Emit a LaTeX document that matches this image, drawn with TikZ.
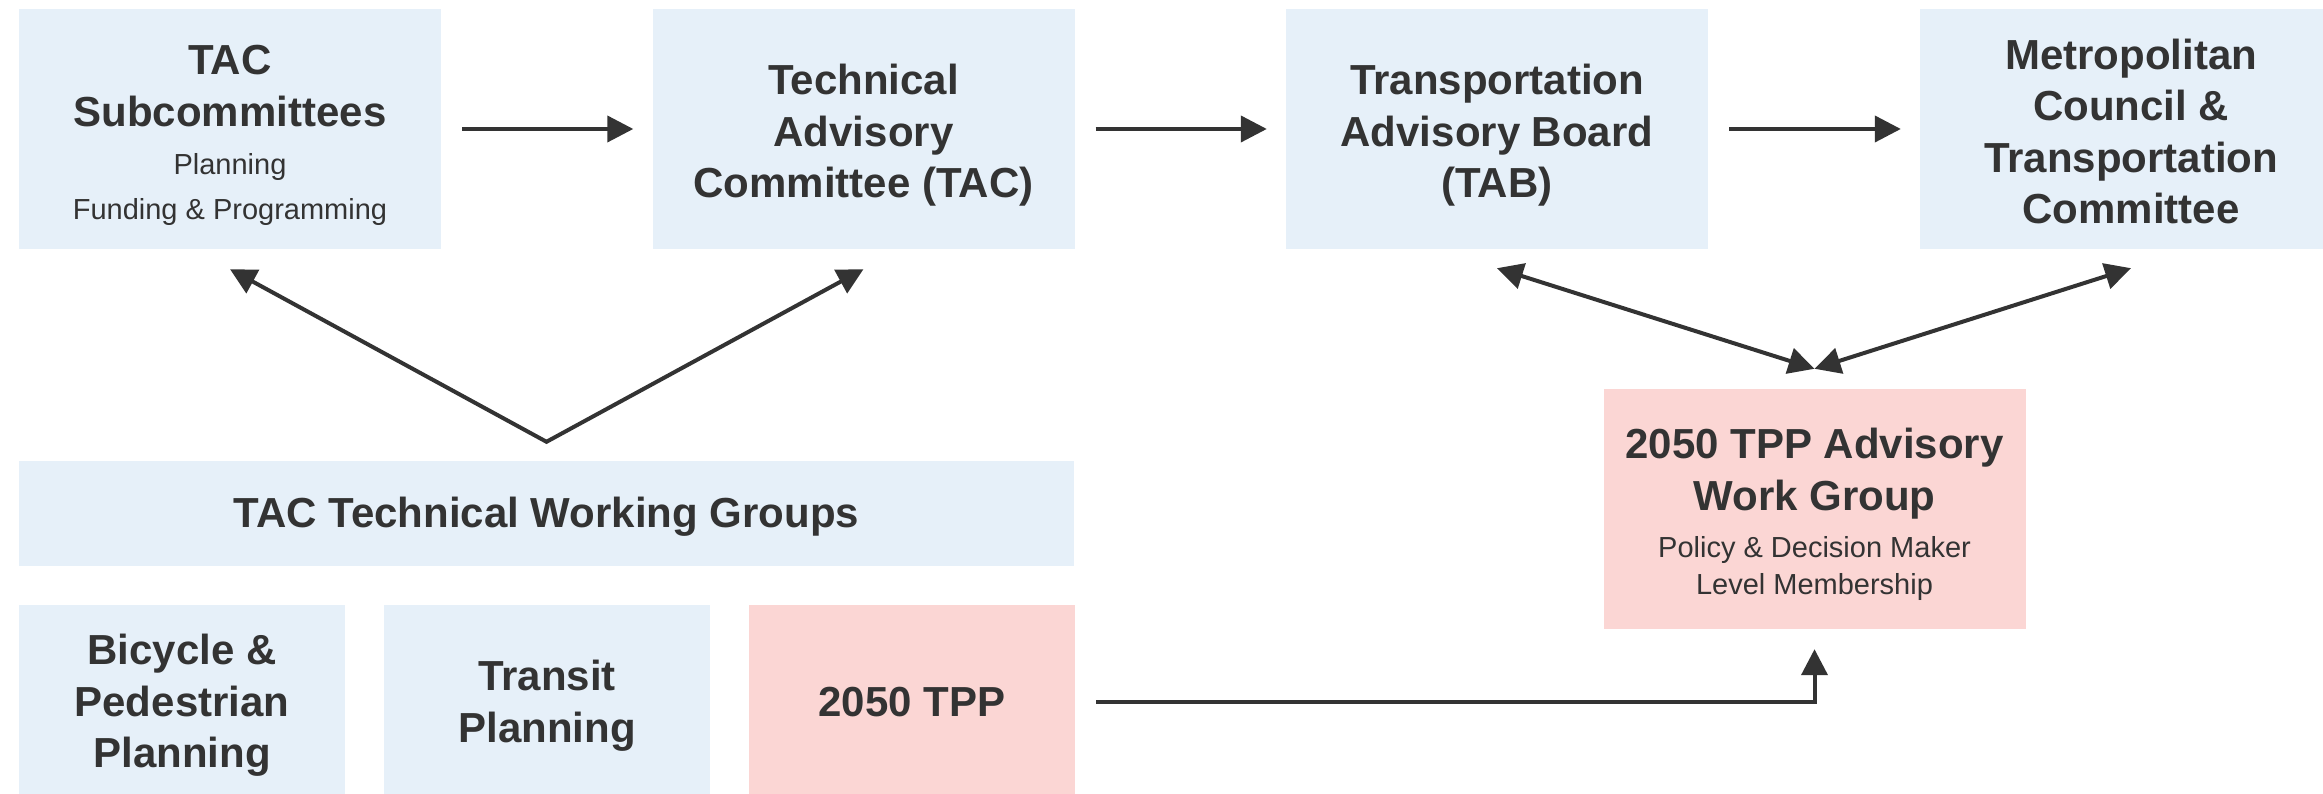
\documentclass[tikz,border=0pt]{standalone}
\usepackage{fontspec}
\setmainfont{Liberation Sans}
\usetikzlibrary{calc}
\usetikzlibrary{arrows.meta}

\definecolor{paleblue}{RGB}{230,240,249}
\definecolor{palepink}{RGB}{251,214,212}
\definecolor{ink}{RGB}{51,51,51}
\newcommand{\detailfont}{\mdseries\fontsize{29}{36.5}\selectfont}
\newcommand{\headroom}[1]{\rule{0pt}{#1}}
\newcommand{\footroom}{\rule[-9pt]{0pt}{9pt}}

\begin{document}
\begin{tikzpicture}[x=1pt, y=1pt,
  unitbox/.style={fill=paleblue, text=ink, inner sep=0pt, align=flush center, font=\bfseries\fontsize{42}{51.5}\selectfont},
  boardbox/.style={unitbox, minimum width=422pt, minimum height=240pt, text width=410pt},
  memberbox/.style={unitbox, minimum width=326pt, minimum height=194pt, text width=316pt},
  flow/.style={draw=ink, line width=4pt, ->, >={Triangle[length=26pt,width=26pt]}}]
\useasboundingbox (0,0) rectangle (2323,794);

\node[boardbox] (sub) at (230,665) {\headroom{45.5pt}TAC\\Subcommittees\\[-3pt]{\detailfont Planning}\\[-6.5pt]{\detailfont Funding \& Programming\footroom}};
\node[boardbox] (tac) at (863.5,665) {\headroom{44pt}Technical\\Advisory\\Committee (TAC)\footroom};
\node[boardbox] (tab) at (1497,665) {\headroom{44pt}Transportation\\Advisory Board\\(TAB)\footroom};
\node[boardbox] (met) at (2131,665) {\headroom{44pt}Metropolitan\\Council \&\\Transportation\\Committee\footroom};

\node[unitbox, minimum width=1055pt, minimum height=105pt, text width=1000pt] (twg) at (546.5,280.5) {\headroom{38pt}TAC Technical Working Groups\footroom};
\node[memberbox] (bike) at (182,92) {\headroom{38pt}Bicycle \&\\Pedestrian\\Planning\footroom};
\node[memberbox] (transit) at (547,92) {\headroom{38pt}Transit\\Planning\footroom};
\node[memberbox, fill=palepink] (tpp) at (912,92) {\headroom{38pt}2050 TPP\footroom};

\node[boardbox, fill=palepink] (adv) at (1814.5,285) {\headroom{44pt}2050 TPP Advisory\\Work Group\\[-4pt]{\detailfont Policy \& Decision Maker}\\[-15pt]{\detailfont Level Membership\footroom}};

\coordinate (subtip) at ($(sub.south)+(0,-20)$);
\coordinate (tactip) at ($(tac.south)+(0,-20)$);
\coordinate (apex) at ($(twg.north)+(0,19)$);
\coordinate (tabtip) at ($(tab.south)+(0,-19)$);
\coordinate (mettip) at ($(met.south)+(0,-19)$);
\coordinate (advtip) at ($(adv.north)+(0,20)$);

\draw[flow, shorten <=21pt, shorten >=19pt] (sub) -- (tac);
\draw[flow, shorten <=21pt, shorten >=19pt] (tac) -- (tab);
\draw[flow, shorten <=21pt, shorten >=19pt] (tab) -- (met);
\draw[flow, <->] (subtip) -- (apex) -- (tactip);
\draw[flow, <->] (tabtip) -- (advtip);
\draw[flow, <->] (mettip) -- (advtip);
\draw[flow, shorten <=21pt, shorten >=20pt] (tpp.east) -| (adv.south);
\end{tikzpicture}
\end{document}
